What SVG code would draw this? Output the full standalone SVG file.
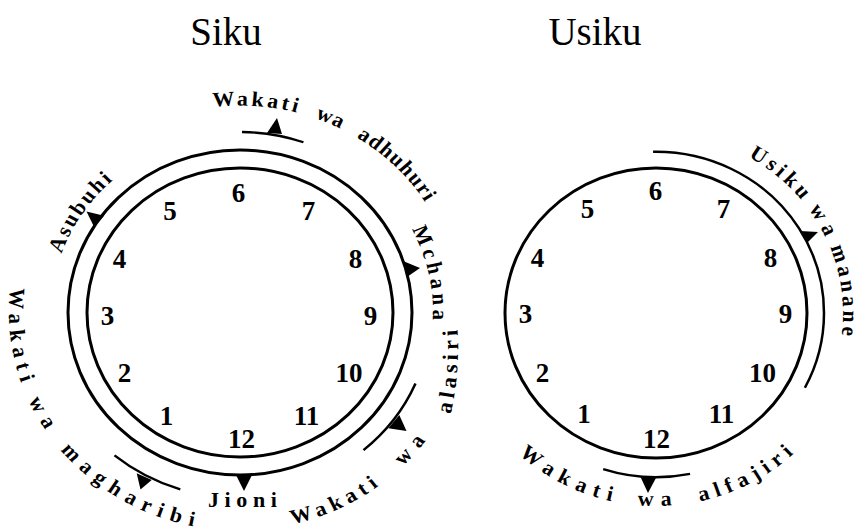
<svg xmlns="http://www.w3.org/2000/svg" width="862" height="531" viewBox="0 0 862 531">
<style>
.ring{fill:none;stroke:#000;stroke-width:3}
.arc{fill:none;stroke:#000;stroke-width:2.5}
.tri{fill:#000;stroke:none}
.num{font-family:"Liberation Serif","Times New Roman",serif;font-weight:bold;font-size:27px;text-anchor:middle;fill:#000}
.lbl{font-family:"Liberation Serif","Times New Roman",serif;font-weight:bold;font-size:22px;fill:#000}
.title{font-family:"Liberation Serif","Times New Roman",serif;font-size:39px;text-anchor:middle;fill:#000}
</style>
<defs>
<path id="pAdhuhuri" d="M-38.0,-215.7 A219 219 0 0 1 205.8,-74.9"/>
<path id="pAsubuhi" d="M-182.6,-48.9 A189 189 0 0 1 -79.9,-171.3"/>
<path id="pMchana" d="M167.1,-96.5 A193 193 0 0 1 186.4,50.0"/>
<path id="pMagharibi" d="M-227.5,-40.1 A231 231 0 0 0 -20.1,230.1"/>
<path id="pAlasiri1" d="M39.9,226.5 A230 230 0 0 0 199.2,115.0"/>
<path id="pAlasiri2" d="M450,417 Q461,372 457,322"/>
<path id="pManane" d="M84.9,-166.6 A187 187 0 0 1 182.9,38.9"/>
<path id="pAlfajiri" d="M-144.6,139.6 A201 201 0 0 0 154.0,129.2"/>
</defs>

<g id="title-siku"><text class="title" x="226" y="45">Siku</text></g>
<g id="title-usiku"><text class="title" x="595" y="45">Usiku</text></g>

<g id="clock-siku">
<ellipse class="ring" cx="240" cy="312.5" rx="172" ry="162.5"/>
<ellipse class="ring" cx="240" cy="312.5" rx="153" ry="144.5"/>
<text class="num" x="238.5" y="202">6</text>
<text class="num" x="170" y="220">5</text>
<text class="num" x="308.5" y="220">7</text>
<text class="num" x="119.5" y="268">4</text>
<text class="num" x="355.5" y="268">8</text>
<text class="num" x="107.5" y="325">3</text>
<text class="num" x="370.5" y="325">9</text>
<text class="num" x="124.5" y="382">2</text>
<text class="num" x="349" y="382">10</text>
<text class="num" x="166.5" y="425">1</text>
<text class="num" x="306.5" y="425">11</text>
<text class="num" x="241.5" y="448">12</text>
</g>

<g id="clock-usiku">
<ellipse class="ring" cx="656" cy="313" rx="151" ry="145"/>
<text class="num" x="655.5" y="200">6</text>
<text class="num" x="587.5" y="218">5</text>
<text class="num" x="723.5" y="218">7</text>
<text class="num" x="537.5" y="267">4</text>
<text class="num" x="770.5" y="267">8</text>
<text class="num" x="525.5" y="323">3</text>
<text class="num" x="785.5" y="323">9</text>
<text class="num" x="542.5" y="382">2</text>
<text class="num" x="762.5" y="382">10</text>
<text class="num" x="584" y="423">1</text>
<text class="num" x="721.5" y="423">11</text>
<text class="num" x="656.5" y="448">12</text>
</g>

<g id="connectors">
<g transform="translate(240 312.5) scale(1 0.945)">
<path class="arc" d="M2,-191 A191 191 0 0 1 63.45,-180.15"/>
<path class="arc" d="M-125.5,151.2 A196.5 196.5 0 0 0 -59.7,187.2"/>
<path class="arc" d="M175.5,75.2 A191 191 0 0 1 123.5,145.7"/>
</g>
<g transform="translate(656 313) scale(1 0.96)">
<path class="arc" d="M-2.93,-167.97 A168 168 0 0 1 148.9,77.8"/>
<path class="arc" d="M-52.8,162.6 A171 171 0 0 0 34.1,167.6"/>
</g>
<polygon class="tri" points="267,133 282,134 277,118"/>
<polygon class="tri" points="86.5,211.5 104,215.7 94,226.7"/>
<polygon class="tri" points="403,261 407,277 420,268"/>
<polygon class="tri" points="236,475 252,475 244,491"/>
<polygon class="tri" points="136.7,473.3 151.7,480 140.5,489.5"/>
<polygon class="tri" points="399.3,415 388.3,428.3 406.5,431"/>
<polygon class="tri" points="800,231 807,243 818,232"/>
<polygon class="tri" points="640,476 657,476 648,493"/>
</g>

<g id="labels-siku">
<g transform="translate(240 312.5) scale(1 0.945)">
<text class="lbl"><textPath href="#pAdhuhuri" startOffset="11.1" letter-spacing="3.2">Wakati</textPath></text>
<text class="lbl"><textPath href="#pAdhuhuri" startOffset="114.7" letter-spacing="0.8">wa</textPath></text>
<text class="lbl"><textPath href="#pAdhuhuri" startOffset="160.9" letter-spacing="1.4">adhuhuri</textPath></text>
<text class="lbl"><textPath href="#pAsubuhi" startOffset="13.9" letter-spacing="2.4">Asubuhi</textPath></text>
<text class="lbl"><textPath href="#pMchana" startOffset="9.4" letter-spacing="4.5">Mchana</textPath></text>
<text class="lbl"><textPath href="#pMagharibi" startOffset="14.1" letter-spacing="6.7">Wakati</textPath></text>
<text class="lbl"><textPath href="#pMagharibi" startOffset="135.9" letter-spacing="8.6">wa</textPath></text>
<text class="lbl"><textPath href="#pMagharibi" startOffset="197.6" letter-spacing="7.6">magharibi</textPath></text>
<text class="lbl"><textPath href="#pAlasiri1" startOffset="12.8" letter-spacing="5.5">Wakati</textPath></text>
<text class="lbl"><textPath href="#pAlasiri1" startOffset="140.5" letter-spacing="8.6">wa</textPath></text>
</g>
<text class="lbl"><textPath href="#pAlasiri2" startOffset="3" letter-spacing="4.4">alasiri</textPath></text>
<text class="lbl" x="208" y="507" letter-spacing="5.6">Jioni</text>
</g>

<g id="labels-usiku">
<g transform="translate(656 313) scale(1 0.96)">
<text class="lbl"><textPath href="#pManane" startOffset="8.2" letter-spacing="3.8">Usiku</textPath></text>
<text class="lbl"><textPath href="#pManane" startOffset="90.3" letter-spacing="6.6">wa</textPath></text>
<text class="lbl"><textPath href="#pManane" startOffset="135.1" letter-spacing="3.8">manane</textPath></text>
<text class="lbl"><textPath href="#pAlfajiri" startOffset="10.5" letter-spacing="7.5">Wakati</textPath></text>
<text class="lbl"><textPath href="#pAlfajiri" startOffset="142.8" letter-spacing="7.6">wa</textPath></text>
<text class="lbl"><textPath href="#pAlfajiri" startOffset="205.6" letter-spacing="6.1">alfajiri</textPath></text>
</g>
</g>
</svg>
